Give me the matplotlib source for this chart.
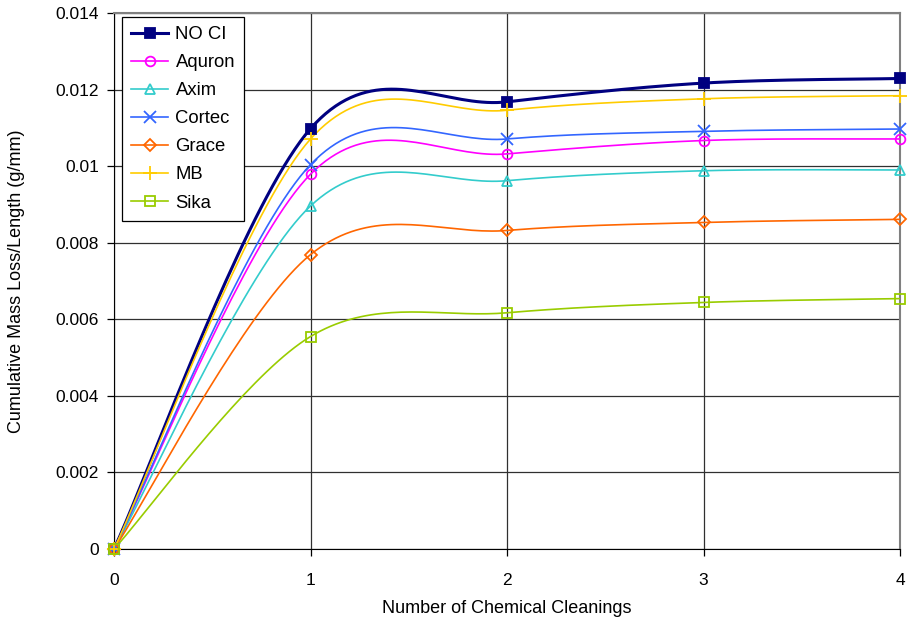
import matplotlib.pyplot as plt
import numpy as np

plt.rcParams['font.family'] = ['Liberation Sans', 'DejaVu Sans']

cleanings = [0, 1, 2, 3, 4]
no_ci = [0, 0.01098, 0.01168, 0.01217, 0.01229]
aquron = [0, 0.00979, 0.01032, 0.01067, 0.01071]
axim = [0, 0.00896, 0.00962, 0.00988, 0.00990]
cortec = [0, 0.01004, 0.01071, 0.01091, 0.01097]
grace = [0, 0.00769, 0.00832, 0.00853, 0.00861]
mb = [0, 0.01071, 0.01146, 0.01176, 0.01184]
sika = [0, 0.00555, 0.00617, 0.00644, 0.00654]


def smooth(x, y, n=40):
    # Excel-style smoothed line (cardinal bezier)
    x = np.asarray(x, float)
    y = np.asarray(y, float)
    px = np.concatenate([[x[0]], x, [x[-1]]])
    py = np.concatenate([[y[0]], y, [y[-1]]])
    xs, ys = [], []
    t = np.linspace(0, 1, n)
    for i in range(len(x) - 1):
        p0 = np.array([px[i + 1], py[i + 1]])
        p3 = np.array([px[i + 2], py[i + 2]])
        p1 = p0 + (np.array([px[i + 2], py[i + 2]]) - np.array([px[i], py[i]])) / 6
        p2 = p3 - (np.array([px[i + 3], py[i + 3]]) - np.array([px[i + 1], py[i + 1]])) / 6
        b = ((1 - t) ** 3)[:, None] * p0 + (3 * (1 - t) ** 2 * t)[:, None] * p1 \
            + (3 * (1 - t) * t ** 2)[:, None] * p2 + (t ** 3)[:, None] * p3
        xs.extend(b[:, 0])
        ys.extend(b[:, 1])
    return xs, ys


series = [
    ('NO CI', no_ci, '#000080', 's', 'full', 2.2, 7),
    ('Aquron', aquron, '#FF00FF', 'o', 'none', 1.2, 7),
    ('Axim', axim, '#33CCCC', '^', 'none', 1.2, 7),
    ('Cortec', cortec, '#3366FF', 'x', 'full', 1.2, 9),
    ('Grace', grace, '#FF6600', 'D', 'none', 1.2, 6),
    ('MB', mb, '#FFCC00', '+', 'full', 1.2, 10),
    ('Sika', sika, '#99CC00', 's', 'none', 1.2, 7),
]

fig = plt.figure(figsize=(9.08, 6.29), dpi=100)
ax = fig.add_axes([0.1256, 0.1272, 0.8656, 0.8521])

for name, vals, col, mk, fill, lw, ms in series:
    sx, sy = smooth(cleanings, vals)
    ax.plot(sx, sy, color=col, lw=lw, zorder=3)
    ax.plot(cleanings, vals, linestyle='none', marker=mk, color=col, fillstyle=fill,
            markersize=ms, markeredgewidth=1.3, markerfacecolor=col if fill == 'full' else 'white',
            zorder=4, clip_on=False)
    ax.plot([], [], color=col, lw=lw, marker=mk, fillstyle=fill, markersize=ms,
            markeredgewidth=1.3, markerfacecolor=col if fill == 'full' else 'white', label=name)

ax.set_xlim(0, 4)
ax.set_ylim(0, 0.014)
ax.set_xticks(cleanings)
ax.set_yticks(np.arange(0, 0.0141, 0.002))
ax.set_yticklabels(['0', '0.002', '0.004', '0.006', '0.008', '0.01', '0.012', '0.014'])
ax.grid(True, color='#303030', lw=0.9)
ax.set_axisbelow(True)
ax.tick_params(labelsize=12.5, direction='out', length=5, width=0.9)
ax.tick_params(axis='x', pad=12)
ax.tick_params(axis='y', pad=6)
for s in ['top', 'right']:
    ax.spines[s].set_color('#808080')
    ax.spines[s].set_linewidth(1.5)
ax.set_xlabel('Number of Chemical Cleanings', fontsize=13, labelpad=9)
ax.set_ylabel('Cumulative Mass Loss/Length (g/mm)', fontsize=13, labelpad=22)

leg = ax.legend(loc='upper left', bbox_to_anchor=(0.010, 0.993), borderaxespad=0,
                fontsize=13.3, frameon=True, fancybox=False, edgecolor='black',
                framealpha=1, handlelength=2.0, handletextpad=0.4,
                labelspacing=0.6, borderpad=0.5)
leg.get_frame().set_linewidth(0.9)

plt.savefig('out.png')
